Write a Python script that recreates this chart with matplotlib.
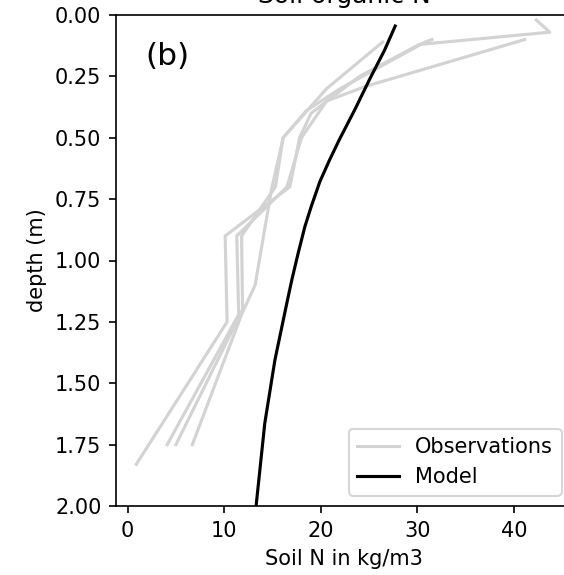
import matplotlib
matplotlib.use('Agg')
import matplotlib.pyplot as plt

# observed soil N profiles (kg/m3) vs depth (m)
obs_depths = [
    [0.02, 0.07, 0.12, 0.25, 0.40, 0.50, 0.70, 0.90, 1.25, 1.83],
    [0.10, 0.29, 0.35, 0.50, 0.70, 0.90, 1.22, 1.75],
    [0.10, 0.11, 0.30, 0.39, 0.50, 0.70, 0.90, 1.20, 1.75],
    [0.11, 0.30, 0.50, 0.71, 1.10, 1.22, 1.75],
]
obs_values = [
    [42.3, 43.7, 30.2, 24.0, 19.0, 17.8, 16.8, 10.1, 10.3, 0.9],
    [41.1, 24.7, 20.6, 18.0, 16.5, 11.3, 11.5, 4.1],
    [31.5, 30.8, 22.0, 18.5, 16.1, 15.3, 11.8, 11.9, 5.0],
    [26.4, 20.6, 16.1, 14.9, 13.2, 11.8, 6.7],
]

# modelled profile
model_depth = [0.045, 0.143, 0.258, 0.387, 0.509, 0.591, 0.679, 0.781, 0.862,
               0.971, 1.079, 1.161, 1.405, 1.663, 2.0]
model_value = [27.7, 26.6, 25.1, 23.5, 21.9, 20.9, 19.9, 19.0, 18.35,
               17.65, 17.0, 16.55, 15.25, 14.2, 13.3]

fig = plt.figure(figsize=(564/150, 575/150), dpi=150)
ax = fig.add_axes([116/564, 69/575, 456/564, 491/575])

for i, (d, v) in enumerate(zip(obs_depths, obs_values)):
    ax.plot(v, d, color='lightgray', lw=1.5,
            label='Observations' if i == 0 else None)
ax.plot(model_value, model_depth, color='k', lw=1.5, label='Model')

ax.set_xlim(-1.2, 46.0)
ax.set_ylim(2.0, 0.0)
ax.set_yticks([0, 0.25, 0.5, 0.75, 1.0, 1.25, 1.5, 1.75, 2.0])
ax.set_xticks([0, 10, 20, 30, 40])
ax.set_xlabel('Soil N in kg/m3')
ax.set_ylabel('depth (m)')
ax.set_title('Soil organic N')
ax.text(0.065, 0.915, '(b)', transform=ax.transAxes, fontsize=15, va='center')
ax.legend(loc='lower right')

fig.savefig('out.png', dpi=150)
